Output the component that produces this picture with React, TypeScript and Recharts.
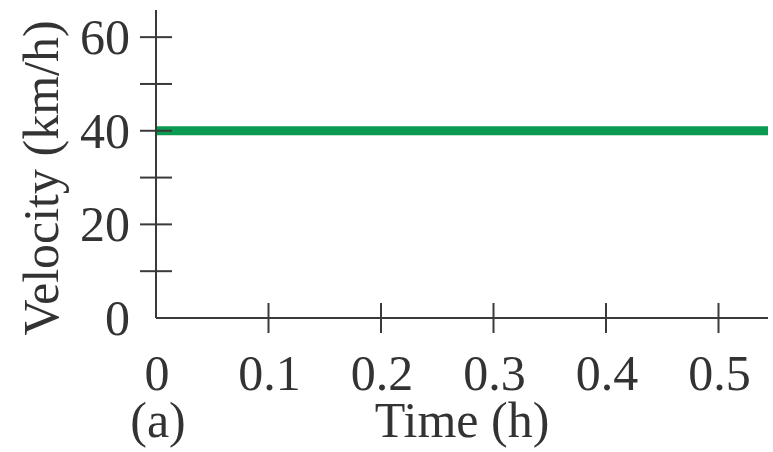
import React from "react";
import { LineChart, Line, XAxis, YAxis } from "recharts";

const times = [0, 0.544];
const velocities = [40, 40];
const xTicks = [0, 0.1, 0.2, 0.3, 0.4, 0.5];
const yTicks = [0, 10, 20, 30, 40, 50, 60];
const yLabelled = [0, 20, 40, 60];
const xDomain = [0, 0.544];
const yDomain = [0, 65.8];

const data = times.map((t, i) => ({ t, v: velocities[i] }));

const FONT = "'Liberation Serif', 'DejaVu Serif', serif";
const TEXT = "#333333";
const AXIS = "#3a3a3a";

const XTick = (props: any) => {
  const { x, y, payload } = props;
  const v = payload.value;
  return (
    <g>
      {v !== 0 && <line x1={x} x2={x} y1={y - 15} y2={y + 15} stroke={AXIS} strokeWidth={2} />}
      <text x={x + 1} y={y + 72} textAnchor="middle" fontFamily={FONT} fontSize={50} fill={TEXT}>
        {String(v)}
      </text>
    </g>
  );
};

const YTick = (props: any) => {
  const { x, y, payload } = props;
  const v = payload.value;
  return (
    <g>
      {v !== 0 && <line x1={x - 16} x2={x + 16} y1={y} y2={y} stroke={AXIS} strokeWidth={2} />}
      {yLabelled.includes(v) && (
        <text x={x - 26} y={y + 17} textAnchor="end" fontFamily={FONT} fontSize={50} fill={TEXT}>
          {String(v)}
        </text>
      )}
    </g>
  );
};

const XLabel = (props: any) => {
  const vb = props.viewBox || {};
  return (
    <g>
      <text x={vb.x + 2} y={vb.y + 119} textAnchor="middle" fontFamily={FONT} fontSize={50} fill={TEXT}>
        (a)
      </text>
      <text x={vb.x + 306} y={vb.y + 119} textAnchor="middle" fontFamily={FONT} fontSize={50} fill={TEXT}>
        Time (h)
      </text>
    </g>
  );
};

const YLabel = () => (
  <text
    x={58}
    y={178}
    transform="rotate(-90, 58, 178)"
    textAnchor="middle"
    fontFamily={FONT}
    fontSize={50}
    fill={TEXT}
  >
    Velocity (km/h)
  </text>
);

export default function App() {
  return (
    <div style={{ position: "absolute", left: 0, top: 0, background: "#fff" }}>
      <LineChart width={773} height={452} data={data} margin={{ top: 10, right: 5, left: 0, bottom: 0 }}>
        <XAxis
          dataKey="t"
          type="number"
          domain={xDomain}
          ticks={xTicks}
          interval={0}
          tickSize={0}
          tickMargin={0}
          tickLine={false}
          height={134}
          axisLine={{ stroke: AXIS, strokeWidth: 2 }}
          tick={<XTick />}
          label={<XLabel />}
        />
        <YAxis
          type="number"
          domain={yDomain}
          ticks={yTicks}
          interval={0}
          tickSize={0}
          tickMargin={0}
          tickLine={false}
          width={156}
          axisLine={{ stroke: AXIS, strokeWidth: 2 }}
          tick={<YTick />}
          label={<YLabel />}
        />
        <Line
          dataKey="v"
          stroke="#0a9a52"
          strokeWidth={9}
          dot={false}
          activeDot={false}
          isAnimationActive={false}
        />
      </LineChart>
    </div>
  );
}
